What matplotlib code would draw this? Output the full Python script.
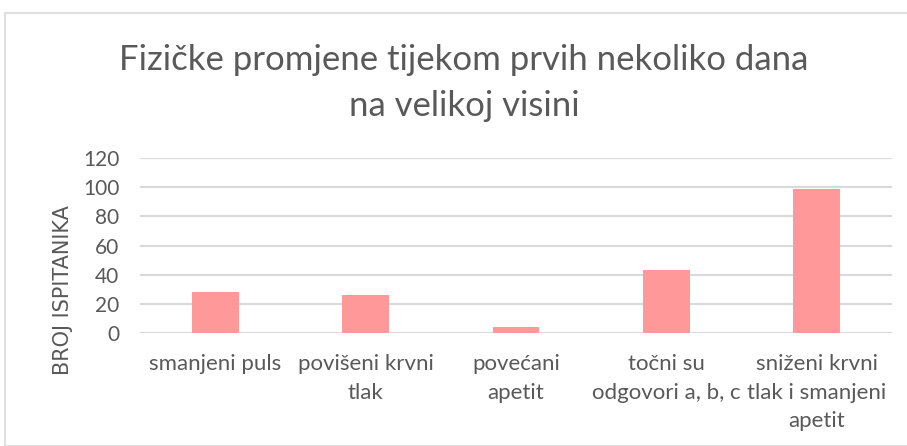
import matplotlib
matplotlib.use('Agg')
import matplotlib.pyplot as plt
import matplotlib.patches as mpatches
import numpy as np

# podaci
categories = ["smanjeni puls", "povišeni krvni\ntlak", "povećani\napetit",
              "točni su\nodgovori a, b, c", "sniženi krvni\ntlak i smanjeni\napetit"]
values = [28, 26, 4, 43, 99]
y_ticks = [0, 20, 40, 60, 80, 100, 120]

title = "Fizičke promjene tijekom prvih nekoliko dana\nna velikoj visini"
y_label = "BROJ ISPITANIKA"

TEXT = '#595959'
plt.rcParams['font.family'] = ['Lato', 'DejaVu Sans']

fig = plt.figure(figsize=(9.07, 4.46), dpi=100)

# okvir grafikona
fig.patches.append(mpatches.Rectangle((5 / 907, 0), 1.0, 1 - 13 / 446, transform=fig.transFigure,
                                      fill=False, edgecolor='#D9D9D9', linewidth=1.2))

ax = fig.add_axes([140 / 907, 1 - 333 / 446, 752 / 907, 175 / 446])
x = np.arange(len(categories))
ax.bar(x, values, width=0.31, color='#FF9999', zorder=3)

ax.set_xlim(-0.5, len(categories) - 0.5)
ax.set_ylim(0, 120)
ax.set_yticks(y_ticks)
ax.yaxis.grid(True, color='#D9D9D9', linewidth=1.5, zorder=0)
for s in ax.spines.values():
    s.set_visible(False)
ax.tick_params(axis='both', length=0, colors=TEXT)
ax.tick_params(axis='y', pad=15, labelsize=15)
ax.tick_params(axis='x', pad=15, labelsize=16)
ax.set_xticks(x)
ax.set_xticklabels(categories, linespacing=1.55)

fig.text(63 / 907, 1 - 290 / 446, y_label, rotation=90, ha='center', va='center',
         fontsize=15, color=TEXT, family='DejaVu Sans')

fig.text(464 / 907, 1 - 83 / 446, title, ha='center', va='center', fontsize=25,
         color=TEXT, linespacing=1.5)

plt.savefig('out.png', dpi=100)
plt.close()
